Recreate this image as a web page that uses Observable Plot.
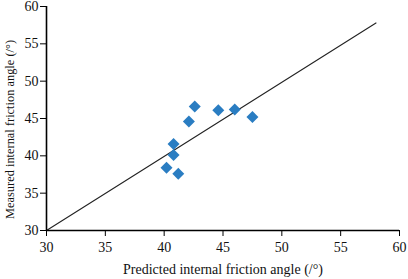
<!DOCTYPE html>
<html>
<head>
<meta charset="utf-8">
<script src="https://cdn.jsdelivr.net/npm/d3@7"></script>
<script src="https://cdn.jsdelivr.net/npm/@observablehq/plot@0.6"></script>
<style>
  html, body { margin: 0; padding: 0; background: #fff; }
  #chart svg { display: block; }
</style>
</head>
<body>
<div id="chart"></div>
<script>
const predicted = [42.6, 42.1, 44.6, 46.0, 47.5, 40.8, 40.8, 40.2, 41.2];
const measured  = [46.6, 44.6, 46.1, 46.2, 45.2, 41.6, 40.1, 38.4, 37.6];
const lineX = [30, 58];
const lineY = [30, 57.8];
const xTicks = [30, 35, 40, 45, 50, 55, 60];
const yTicks = [30, 35, 40, 45, 50, 55, 60];
const xTitle = "Predicted internal friction angle (/°)";
const yTitle = "Measured internal friction angle (/°)";

const points = predicted.map((p, i) => ({x: p, y: measured[i]}));
const linePts = lineX.map((x, i) => ({x, y: lineY[i]}));

const chart = Plot.plot({
  width: 408,
  height: 279,
  marginLeft: 46,
  marginRight: 9,
  marginTop: 6,
  marginBottom: 49,
  style: {fontFamily: "'Liberation Serif', 'Times New Roman', serif", fontSize: "14px", color: "#111", background: "#fff"},
  x: {domain: [30, 60]},
  y: {domain: [30, 60]},
  marks: [
    Plot.axisX({ticks: xTicks, tickSize: 6, tickPadding: 6, stroke: "#000", fontSize: 14,
      label: xTitle, labelAnchor: "center", labelArrow: "none", labelOffset: 43}),
    Plot.axisY({ticks: yTicks, tickSize: 6, tickPadding: 2, stroke: "#000", fontSize: 14, label: null}),
    Plot.text([yTitle], {text: d => d, frameAnchor: "left", textAnchor: "middle", lineAnchor: "middle", rotate: -90, dx: -36, dy: 11, fontSize: 12.4, fill: "#111"}),
    Plot.line(linePts, {x: "x", y: "y", stroke: "#222", strokeWidth: 1.1}),
    Plot.ruleX([30], {stroke: "#000", strokeWidth: 1.6}),
    Plot.ruleY([30], {stroke: "#000", strokeWidth: 1.6}),
    Plot.dot(points, {x: "x", y: "y", symbol: "diamond2", r: 5.4, fill: "#2a7dc2", stroke: "none"})
  ]
});
document.getElementById("chart").appendChild(chart);
</script>
</body>
</html>
